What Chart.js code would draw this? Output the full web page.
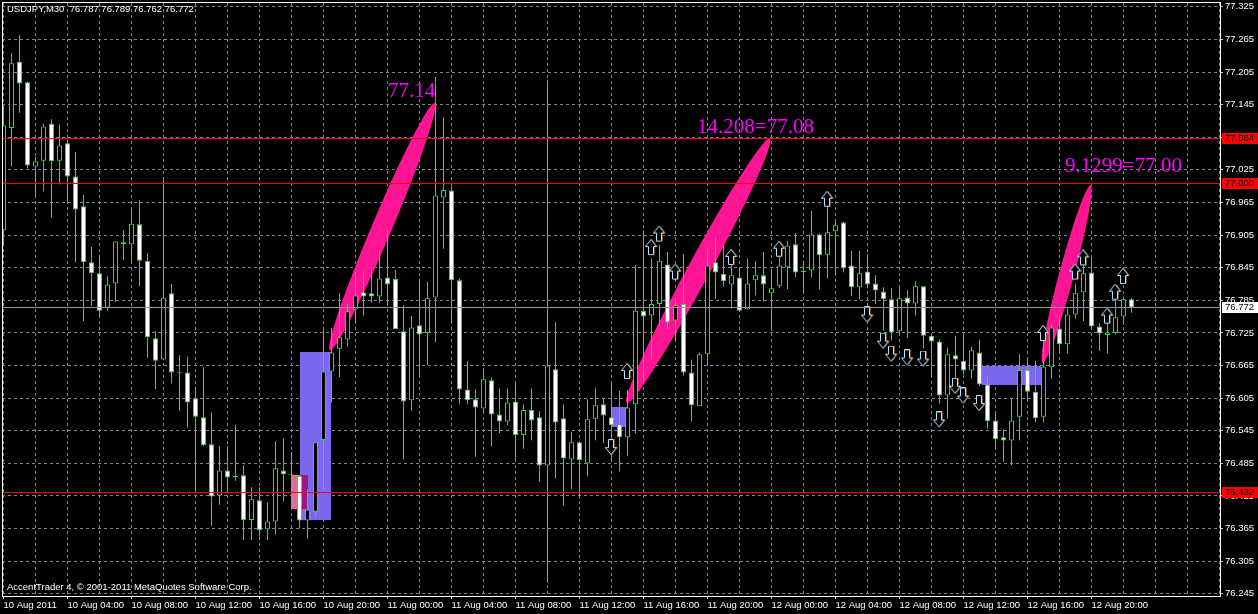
<!DOCTYPE html>
<html>
<head>
<meta charset="utf-8">
<title>USDJPY,M30</title>
<script src="https://cdn.jsdelivr.net/npm/chart.js@4.4.1/dist/chart.umd.min.js"></script>
<style>
  html, body { margin: 0; padding: 0; background: #000; overflow: hidden; }
  canvas { display: block; }
</style>
</head>
<body>
<canvas id="chart" width="1258" height="614"></canvas>
<script>
// === USDJPY M30 - MT4 style candle chart ===

// --- bars : index 0 = 10 Aug 2011 00:00, one bar every 30 min ---
const opens = [
  76.914, 77.102, 77.224, 77.186, 77.031, 77.042, 77.110, 77.042, 77.074, 77.013,
  76.958, 76.855, 76.835, 76.772, 76.816, 76.892, 76.888, 76.925, 76.858, 76.715,
  76.676, 76.798, 76.652, 76.652, 76.605, 76.570, 76.520, 76.426, 76.472, 76.461,
  76.463, 76.381, 76.417, 76.364, 76.378, 76.472, 76.464, 76.462, 76.380, 76.396,
  76.528, 76.654, 76.696, 76.713, 76.768, 76.800, 76.798, 76.792, 76.827, 76.824,
  76.728, 76.601, 76.739, 76.725, 76.790, 76.974, 76.987, 76.822, 76.621, 76.603,
  76.586, 76.638, 76.575, 76.562, 76.599, 76.537, 76.583, 76.570, 76.481, 76.658,
  76.568, 76.492, 76.524, 76.485, 76.567, 76.594, 76.570, 76.557, 76.533, 76.594,
  76.766, 76.757, 76.778, 76.851, 76.748, 76.778, 76.652, 76.590, 76.686, 76.855,
  76.834, 76.814, 76.827, 76.768, 76.822, 76.831, 76.798, 76.812, 76.846, 76.888,
  76.838, 76.840, 76.906, 76.869, 76.912, 76.928, 76.849, 76.809, 76.838, 76.816,
  76.801, 76.787, 76.728, 76.790, 76.779, 76.811, 76.720, 76.709, 76.610, 76.684,
  76.674, 76.656, 76.689, 76.630, 76.564, 76.533, 76.527, 76.571, 76.657, 76.617,
  76.571, 76.662, 76.733, 76.704, 76.759, 76.800, 76.836, 76.737, 76.721, 76.725,
  76.755, 76.787
];
const highs = [
  77.142, 77.240, 77.273, 77.187, 77.049, 77.110, 77.118, 77.109, 77.080, 77.058,
  76.979, 76.883, 76.869, 76.830, 76.893, 76.914, 76.951, 76.969, 76.872, 76.728,
  77.012, 76.815, 76.684, 76.681, 76.626, 76.662, 76.579, 76.517, 76.517, 76.556,
  76.482, 76.441, 76.441, 76.413, 76.526, 76.531, 76.506, 76.464, 76.437, 76.524,
  76.733, 76.734, 76.798, 76.779, 76.838, 76.838, 76.846, 76.877, 76.914, 76.841,
  76.776, 76.756, 76.825, 76.819, 77.196, 77.122, 76.998, 76.825, 76.673, 76.621,
  76.660, 76.643, 76.623, 76.623, 76.635, 76.594, 76.623, 76.581, 77.190, 76.745,
  76.594, 76.543, 76.524, 76.603, 76.624, 76.605, 76.632, 76.618, 76.620, 76.850,
  76.914, 76.862, 76.887, 76.874, 76.789, 76.870, 76.676, 76.689, 76.882, 76.901,
  76.887, 76.850, 76.844, 76.862, 76.857, 76.874, 76.841, 76.865, 76.894, 76.909,
  76.858, 76.950, 76.908, 76.976, 76.929, 76.930, 76.876, 76.876, 76.870, 76.831,
  76.809, 76.807, 76.807, 76.804, 76.820, 76.811, 76.722, 76.713, 76.698, 76.720,
  76.722, 76.700, 76.713, 76.646, 76.577, 76.548, 76.605, 76.686, 76.679, 76.674,
  76.730, 76.741, 76.759, 76.770, 76.816, 76.865, 76.865, 76.743, 76.757, 76.786,
  76.792, 76.789
];
const lows = [
  76.888, 77.031, 77.130, 77.028, 76.976, 76.985, 76.937, 76.998, 76.965, 76.855,
  76.747, 76.775, 76.754, 76.766, 76.782, 76.859, 76.855, 76.811, 76.679, 76.622,
  76.676, 76.632, 76.582, 76.551, 76.436, 76.517, 76.370, 76.409, 76.430, 76.453,
  76.344, 76.344, 76.350, 76.344, 76.354, 76.415, 76.402, 76.365, 76.347, 76.387,
  76.436, 76.597, 76.644, 76.700, 76.744, 76.757, 76.781, 76.780, 76.776, 76.732,
  76.492, 76.582, 76.646, 76.666, 76.708, 76.880, 76.744, 76.594, 76.594, 76.497,
  76.577, 76.516, 76.541, 76.555, 76.491, 76.512, 76.527, 76.451, 76.265, 76.457,
  76.407, 76.437, 76.420, 76.461, 76.527, 76.522, 76.490, 76.470, 76.499, 76.540,
  76.632, 76.676, 76.738, 76.732, 76.712, 76.646, 76.562, 76.590, 76.665, 76.788,
  76.810, 76.770, 76.766, 76.768, 76.794, 76.783, 76.729, 76.807, 76.806, 76.828,
  76.797, 76.827, 76.805, 76.825, 76.833, 76.836, 76.793, 76.787, 76.807, 76.778,
  76.730, 76.711, 76.722, 76.715, 76.757, 76.697, 76.644, 76.595, 76.567, 76.614,
  76.649, 76.641, 76.627, 76.549, 76.514, 76.488, 76.482, 76.527, 76.602, 76.560,
  76.560, 76.641, 76.689, 76.687, 76.751, 76.747, 76.732, 76.692, 76.687, 76.722,
  76.740, 76.762
];
const closes = [
  77.107, 77.221, 77.184, 77.033, 77.041, 77.105, 77.041, 77.070, 77.013, 76.952,
  76.855, 76.835, 76.766, 76.814, 76.893, 76.888, 76.926, 76.858, 76.717, 76.674,
  76.790, 76.652, 76.651, 76.597, 76.571, 76.519, 76.424, 76.472, 76.459, 76.460,
  76.381, 76.419, 76.362, 76.378, 76.476, 76.465, 76.463, 76.380, 76.400, 76.524,
  76.654, 76.689, 76.717, 76.765, 76.794, 76.792, 76.792, 76.825, 76.814, 76.732,
  76.599, 76.735, 76.722, 76.789, 76.978, 76.988, 76.822, 76.621, 76.601, 76.588,
  76.640, 76.575, 76.562, 76.597, 76.537, 76.583, 76.564, 76.481, 76.665, 76.560,
  76.494, 76.524, 76.491, 76.566, 76.592, 76.573, 76.555, 76.533, 76.588, 76.766,
  76.755, 76.778, 76.858, 76.744, 76.776, 76.652, 76.592, 76.686, 76.849, 76.836,
  76.820, 76.831, 76.766, 76.816, 76.831, 76.814, 76.807, 76.849, 76.886, 76.836,
  76.837, 76.906, 76.868, 76.910, 76.923, 76.844, 76.809, 76.835, 76.814, 76.803,
  76.787, 76.726, 76.789, 76.779, 76.811, 76.720, 76.709, 76.610, 76.686, 76.676,
  76.656, 76.693, 76.630, 76.563, 76.530, 76.527, 76.564, 76.657, 76.617, 76.568,
  76.663, 76.735, 76.704, 76.759, 76.798, 76.835, 76.737, 76.724, 76.726, 76.754,
  76.787, 76.772
];

// --- axes ---
const priceTicks = [
  77.325, 77.265, 77.205, 77.145, 77.085, 77.025, 76.965, 76.905, 76.845, 76.785,
  76.725, 76.665, 76.605, 76.545, 76.485, 76.425, 76.365, 76.305, 76.245
];
// one label every 8 bars (4 hours)
const timeLabels = [
  "10 Aug 2011", "10 Aug 04:00", "10 Aug 08:00", "10 Aug 12:00", "10 Aug 16:00", "10 Aug 20:00",
  "11 Aug 00:00", "11 Aug 04:00", "11 Aug 08:00", "11 Aug 12:00", "11 Aug 16:00", "11 Aug 20:00",
  "12 Aug 00:00", "12 Aug 04:00", "12 Aug 08:00", "12 Aug 12:00", "12 Aug 16:00", "12 Aug 20:00"
];

// --- chart objects ---
const redLevels = [77.084, 77.000, 76.432];
const bidLevel = 76.772;

const upArrowBars = [78, 81, 82, 84, 91, 97, 103, 130, 134, 135, 138, 139, 140];
const upArrowPrices = [76.654, 76.882, 76.907, 76.837, 76.864, 76.879, 76.971, 76.724, 76.837, 76.863, 76.756, 76.800, 76.829];
const downArrowBars = [76, 108, 110, 111, 113, 115, 117, 119, 120, 122];
const downArrowPrices = [76.514, 76.758, 76.710, 76.686, 76.679, 76.677, 76.565, 76.627, 76.609, 76.595];

const ellipseFromBar = [40.8, 77.9, 129.9];
const ellipseFromPrice = [76.693, 76.596, 76.670];
const ellipseToBar = [53.9, 95.8, 135.9];
const ellipseToPrice = [77.148, 77.083, 76.997];

const rectFromBar = [37, 36, 76, 122.25];
const rectToBar = [41, 38, 78, 129.7];
const rectTopPrice = [76.690, 76.463, 76.589, 76.665];
const rectBottomPrice = [76.381, 76.401, 76.552, 76.629];

const noteBars = [51, 94, 140];
const notePrices = [77.159, 77.093, 77.021];
const noteTexts = ["77.14", "14.208=77.08", "9.1299=77.00"];

const headerText = "USDJPY,M30  76.787 76.789 76.762 76.772";
const footerText = "AccentTrader 4, \u00a9 2001-2011 MetaQuotes Software Corp.";

// ============================================================
//  styles
// ============================================================
const $ = (id) => document.getElementById(id);
const LIME = "#00ff00";
const GRID = "#778899";
const UI_FONT = '9.5px "Liberation Sans", Arial, sans-serif';
const RECT_COLORS = ["#7b68ee", "#db7093", "#7b68ee", "#7b68ee"];
const RIBBON = [10, 11, 7.5];

// arrow glyphs (outlined, like MT4 wingdings arrows)
function makeArrow(up) {
  const c = document.createElement("canvas");
  c.width = 13;
  c.height = 17;
  const g = c.getContext("2d");
  const pts = [[6, 0.5], [11.5, 7.5], [8.5, 7.5], [8.5, 15.5], [3.5, 15.5], [3.5, 7.5], [0.5, 7.5]];
  const path = (dx, dy) => {
    g.beginPath();
    pts.forEach(([px, py], i) => {
      const yy = up ? py : 16 - py;
      if (i) g.lineTo(px + dx, yy + dy);
      else g.moveTo(px + dx, yy + dy);
    });
    g.closePath();
  };
  g.lineWidth = 1;
  path(1, 0);
  g.strokeStyle = "#6e4b2a";
  g.stroke();
  path(0, 0);
  g.fillStyle = "#000";
  g.fill();
  g.strokeStyle = "#b4e4fa";
  g.stroke();
  return c;
}

// ============================================================
//  datasets
// ============================================================
const wickData = lows.map((l, i) => ({ x: i, y: [l, highs[i]] }));
const bodyData = opens.map((o, i) => ({ x: i, y: [o, closes[i]] }));
const upData = upArrowBars.map((b, i) => ({ x: b, y: upArrowPrices[i] }));
const downData = downArrowBars.map((b, i) => ({ x: b, y: downArrowPrices[i] }));

const gridBars = [];
for (let b = 0; b <= 152; b += 4) gridBars.push(b);

// ============================================================
//  MT4 objects, frame and texts
// ============================================================
const mt4Plugin = {
  id: "mt4",
  beforeDraw(chart) {
    const { ctx, width, height } = chart;
    ctx.save();
    ctx.fillStyle = "#000";
    ctx.fillRect(0, 0, width, height);
    ctx.restore();
  },
  beforeDatasetsDraw(chart) {
    const { ctx, chartArea: a, scales: { x, y } } = chart;
    ctx.save();
    ctx.beginPath();
    ctx.rect(a.left, a.top, a.right - a.left, a.bottom - a.top);
    ctx.clip();

    // rectangles
    const boxes = rectFromBar.map((b, i) => {
      const x0 = Math.round(x.getPixelForValue(b));
      const x1 = Math.round(x.getPixelForValue(rectToBar[i]));
      const y0 = Math.round(y.getPixelForValue(rectTopPrice[i]));
      const y1 = Math.round(y.getPixelForValue(rectBottomPrice[i]));
      ctx.fillStyle = RECT_COLORS[i];
      ctx.fillRect(x0, y0, x1 - x0, y1 - y0);
      return [x0, y0, x1, y1];
    });
    // overlap of the first two is xor-ed
    const [p, q] = [boxes[0], boxes[1]];
    const ox0 = Math.max(p[0], q[0]), ox1 = Math.min(p[2], q[2]);
    const oy0 = Math.max(p[1], q[1]), oy1 = Math.min(p[3], q[3]);
    if (ox1 > ox0 && oy1 > oy0) {
      ctx.fillStyle = "#a0187d";
      ctx.fillRect(ox0, oy0, ox1 - ox0, oy1 - oy0);
    }

    // ellipses
    ellipseFromBar.forEach((b, i) => {
      const x0 = x.getPixelForValue(b), y0 = y.getPixelForValue(ellipseFromPrice[i]);
      const x1 = x.getPixelForValue(ellipseToBar[i]), y1 = y.getPixelForValue(ellipseToPrice[i]);
      ctx.beginPath();
      ctx.ellipse((x0 + x1) / 2, (y0 + y1) / 2, Math.hypot(x1 - x0, y1 - y0) / 2, RIBBON[i],
        Math.atan2(y1 - y0, x1 - x0), 0, Math.PI * 2);
      ctx.fillStyle = "#ff1493";
      ctx.fill();
    });
    ctx.restore();
  },
  afterDatasetsDraw(chart) {
    const { ctx, chartArea: a, scales: { x, y } } = chart;
    ctx.save();
    ctx.beginPath();
    ctx.rect(a.left, a.top, a.right - a.left, a.bottom - a.top);
    ctx.clip();

    // horizontal levels
    ctx.lineWidth = 1;
    redLevels.forEach((v) => {
      const py = Math.round(y.getPixelForValue(v)) + 0.5;
      ctx.strokeStyle = "#ff0000";
      ctx.beginPath();
      ctx.moveTo(a.left, py);
      ctx.lineTo(a.right, py);
      ctx.stroke();
    });
    const by = Math.round(y.getPixelForValue(bidLevel)) + 0.5;
    ctx.strokeStyle = "#8a96a3";
    ctx.beginPath();
    ctx.moveTo(a.left, by);
    ctx.lineTo(a.right, by);
    ctx.stroke();

    // magenta notes
    ctx.font = '21px "Liberation Serif", "Times New Roman", serif';
    ctx.fillStyle = "#ff00ff";
    ctx.textAlign = "center";
    ctx.textBaseline = "alphabetic";
    noteTexts.forEach((t, i) => {
      ctx.fillText(t, x.getPixelForValue(noteBars[i]), y.getPixelForValue(notePrices[i]));
    });
    ctx.restore();
  },
  afterDraw(chart) {
    const { ctx, chartArea: a, scales: { y } } = chart;
    ctx.save();

    // frame
    ctx.strokeStyle = "#ffffff";
    ctx.lineWidth = 1;
    ctx.strokeRect(a.left + 0.5, a.top - 0.5, a.right - a.left, a.bottom - a.top + 1);

    // level boxes on the price axis
    ctx.font = UI_FONT;
    ctx.textAlign = "left";
    ctx.textBaseline = "middle";
    const tag = (v, bg) => {
      const py = Math.round(y.getPixelForValue(v));
      ctx.fillStyle = bg;
      ctx.fillRect(a.right + 2, py - 5, 36, 11);
      ctx.fillStyle = "#000";
      ctx.fillText(v.toFixed(3), a.right + 5, py + 0.5);
    };
    redLevels.forEach((v) => tag(v, "#ff0000"));
    tag(bidLevel, "#ffffff");

    // header / footer
    ctx.fillStyle = "#ffffff";
    ctx.fillText(headerText, 7, 9.5);
    ctx.fillText(footerText, 7, 587);
    ctx.restore();
  }
};

// ============================================================
//  chart
// ============================================================
const upImg = makeArrow(true);
const downImg = makeArrow(false);

new Chart($("chart"), {
  type: "bar",
  data: {
    datasets: [
      {
        label: "wick",
        data: wickData,
        backgroundColor: LIME,
        borderWidth: 0,
        barThickness: 1,
        inflateAmount: 0,
        grouped: false,
        clip: 0,
        order: 3
      },
      {
        label: "body",
        data: bodyData,
        backgroundColor: (c) => (closes[c.dataIndex] > opens[c.dataIndex] ? "#000000" : "#ffffff"),
        borderColor: LIME,
        borderWidth: 1,
        borderSkipped: false,
        barThickness: 5,
        minBarLength: 1,
        inflateAmount: 0,
        grouped: false,
        clip: 0,
        order: 2
      },
      {
        type: "scatter",
        label: "up",
        data: upData,
        pointStyle: upImg,
        pointRadius: 7,
        clip: 0,
        order: 1
      },
      {
        type: "scatter",
        label: "down",
        data: downData,
        pointStyle: downImg,
        pointRadius: 7,
        clip: 0,
        order: 1
      }
    ]
  },
  options: {
    responsive: false,
    animation: false,
    devicePixelRatio: 1,
    events: [],
    layout: { autoPadding: false, padding: { left: 2, top: 3, right: 0, bottom: 0 } },
    plugins: { legend: { display: false }, tooltip: { enabled: false } },
    scales: {
      x: {
        type: "linear",
        min: -0.1875,
        max: 152.0625,
        offset: false,
        grid: {
          color: GRID,
          offset: false,
          tickLength: 3,
          tickBorderDash: [],
          tickColor: (c) => {
            const v = c.tick ? c.tick.value : -1;
            return v % 8 === 0 && v / 8 < timeLabels.length ? "#c8c8c8" : "rgba(0,0,0,0)";
          }
        },
        border: { display: false, dash: [3, 3] },
        ticks: {
          color: "#ffffff",
          font: { family: '"Liberation Sans", Arial, sans-serif', size: 9.5 },
          align: "start",
          autoSkip: false,
          maxRotation: 0,
          padding: 1,
          callback: (v) => (v % 8 === 0 ? timeLabels[v / 8] || "" : "")
        },
        afterBuildTicks: (s) => { s.ticks = gridBars.map((v) => ({ value: v })); },
        afterFit: (s) => { s.height = 18; s.paddingLeft = 0; s.paddingRight = 0; }
      },
      y: {
        type: "linear",
        position: "right",
        min: 76.241,
        max: 77.332,
        grid: { color: GRID, tickLength: 3, tickColor: "#c8c8c8", tickBorderDash: [] },
        border: { display: false, dash: [3, 3] },
        ticks: {
          color: "#ffffff",
          font: { family: '"Liberation Sans", Arial, sans-serif', size: 9.5 },
          padding: 2,
          callback: (v) => Number(v).toFixed(3)
        },
        afterBuildTicks: (s) => { s.ticks = priceTicks.map((v) => ({ value: v })); },
        afterFit: (s) => { s.width = 38; s.paddingTop = 0; s.paddingBottom = 0; }
      }
    }
  },
  plugins: [mt4Plugin]
});
</script>
</body>
</html>
